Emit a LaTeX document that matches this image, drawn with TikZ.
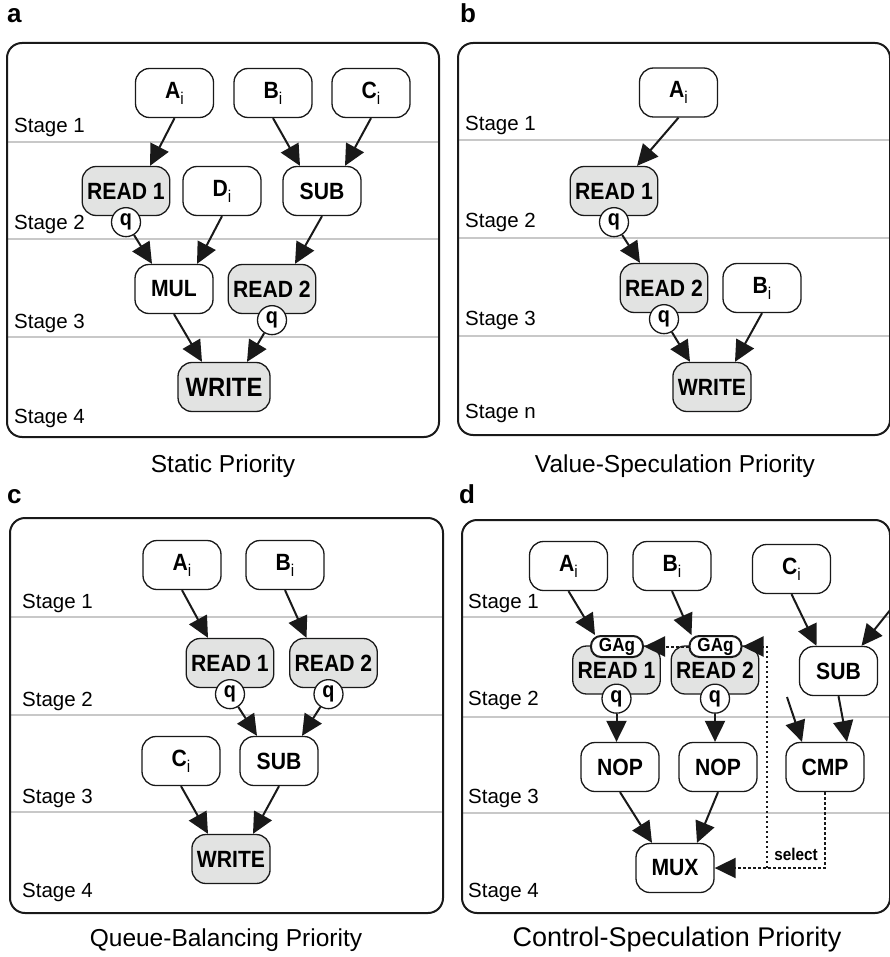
\documentclass[tikz,border=0pt]{standalone}
\usepackage{fontspec}
\setmainfont{Liberation Sans}
\newfontfamily\nodefont[FakeStretch=0.9]{Liberation Sans}
\usetikzlibrary{arrows.meta,positioning}
\definecolor{rdgray}{RGB}{226,227,226}
\definecolor{stgray}{RGB}{200,200,200}
\definecolor{ink}{RGB}{25,25,25}
\tikzset{
  op/.style={draw=ink, line width=1.3pt, rounded corners=14pt, fill=white, minimum width=78pt, minimum height=49pt, inner xsep=5pt, inner ysep=0pt, font=\nodefont\fontsize{23.5}{26}\selectfont\bfseries},
  rd/.style={op, fill=rdgray, minimum width=0pt},
  qq/.style={circle, draw=ink, line width=1.3pt, fill=white, minimum size=29pt, inner sep=0pt, font=\nodefont\fontsize{22}{24}\selectfont\bfseries},
  gag/.style={draw=ink, line width=2pt, rounded corners=10pt, fill=white, minimum width=52pt, minimum height=21pt, inner sep=0pt, font=\nodefont\fontsize{19}{20}\selectfont\bfseries},
  pbox/.style={draw=ink, line width=2pt, rounded corners=15pt},
  stline/.style={draw=stgray, line width=2.5pt},
  stage/.style={anchor=base west, inner sep=0pt, font=\fontsize{20.5}{22}\selectfont},
  panel/.style={anchor=base west, inner sep=0pt, font=\fontsize{26}{28}\selectfont\bfseries},
  caption/.style={font=\fontsize{24.5}{28}\selectfont},
  flow/.style={draw=ink, line width=2pt, -{Triangle[length=21pt,width=20pt]}},
  ctl/.style={flow, dash pattern=on 2.5pt off 2.5pt},
}
\newcommand{\sub}[2]{#1\raisebox{-6pt}{\fontsize{17}{17}\selectfont\mdseries #2}}
\begin{document}
\begin{tikzpicture}[x=1pt, y=-1pt]
  \useasboundingbox (0,0) rectangle (889,957);

  % panel a
  \draw[stline] (7,142) -- (439,142);
  \draw[stline] (7,239) -- (439,239);
  \draw[stline] (7,337) -- (439,337);
  \draw[pbox] (7,43) rectangle (439,437);
  \node[panel] (la) at (7,23) {a};
  \node[stage] (as1) at (14,133) {Stage 1};
  \node[stage] (as2) at (14,230) {Stage 2};
  \node[stage] (as3) at (14,328) {Stage 3};
  \node[stage] (as4) at (14,423) {Stage 4};
  \node[op] (aA) at (174.5,93) {\sub{A}{i}};
  \node[op] (aB) at (273,93) {\sub{B}{i}};
  \node[op] (aC) at (371,93) {\sub{C}{i}};
  \node[rd] (aR1) at (126,191) {READ 1};
  \node[qq] (aQ1) at ([yshift=-6pt]aR1.south) {q};
  \node[op] (aD) at (222,191) {\sub{D}{i}};
  \node[op] (aS) at (322,191) {SUB};
  \node[op] (aM) at (174,289) {MUL};
  \node[rd] (aR2) at (272,289) {READ 2};
  \node[qq] (aQ2) at ([yshift=-6pt]aR2.south) {q};
  \node[rd, minimum width=92pt, font=\nodefont\fontsize{26.5}{28}\selectfont\bfseries] (aW) at (224,387) {WRITE};
  \draw[flow] (aA.south) -- ([xshift=24pt]aR1.north);
  \draw[flow] (aB.south) -- ([xshift=-22pt]aS.north);
  \draw[flow] (aC.south) -- ([xshift=23pt]aS.north);
  \draw[flow] (aQ1) -- ([xshift=-22pt]aM.north);
  \draw[flow] (aD.south) -- ([xshift=23pt]aM.north);
  \draw[flow] (aS.south) -- ([xshift=23pt]aR2.north);
  \draw[flow] (aM.south) -- ([xshift=-22pt]aW.north);
  \draw[flow] (aQ2) -- ([xshift=23pt]aW.north);
  \node[caption] (ca) at (223,466) {Static Priority};

  % panel b
  \draw[stline] (458,140) -- (890,140);
  \draw[stline] (458,238) -- (890,238);
  \draw[stline] (458,336) -- (890,336);
  \draw[pbox] (458,43) rectangle (890,435);
  \node[panel] (lb) at (460,23) {b};
  \node[stage] (bs1) at (465,131) {Stage 1};
  \node[stage] (bs2) at (465,228) {Stage 2};
  \node[stage] (bs3) at (465,325) {Stage 3};
  \node[stage] (bs4) at (465,418) {Stage n};
  \node[op] (bA) at (678.5,92.5) {\sub{A}{i}};
  \node[rd] (bR1) at (614,191) {READ 1};
  \node[qq] (bQ1) at ([yshift=-6pt]bR1.south) {q};
  \node[rd] (bR2) at (664,288) {READ 2};
  \node[qq] (bQ2) at ([yshift=-6pt]bR2.south) {q};
  \node[op] (bB) at (762,288) {\sub{B}{i}};
  \node[rd] (bW) at (712,387) {WRITE};
  \draw[flow] (bA.south) -- ([xshift=23pt]bR1.north);
  \draw[flow] (bQ1) -- ([xshift=-24pt]bR2.north);
  \draw[flow] (bQ2) -- ([xshift=-22pt]bW.north);
  \draw[flow] (bB.south) -- ([xshift=23pt]bW.north);
  \node[caption] (cb) at (675,466) {Value-Speculation Priority};

  % panel c
  \draw[stline] (10,617) -- (443,617);
  \draw[stline] (10,715) -- (443,715);
  \draw[stline] (10,812) -- (443,812);
  \draw[pbox] (10,518) rectangle (443,913);
  \node[panel] (lc) at (7,503) {c};
  \node[stage] (cs1) at (22,608) {Stage 1};
  \node[stage] (cs2) at (22,706) {Stage 2};
  \node[stage] (cs3) at (22,803) {Stage 3};
  \node[stage] (cs4) at (22,897) {Stage 4};
  \node[op] (cA) at (182,565) {\sub{A}{i}};
  \node[op] (cB) at (285,565) {\sub{B}{i}};
  \node[rd] (cR1) at (230,663) {READ 1};
  \node[qq] (cQ1) at ([yshift=-6pt]cR1.south) {q};
  \node[rd] (cR2) at (333.5,663) {READ 2};
  \node[qq] (cQ2) at ([xshift=-5pt,yshift=-6pt]cR2.south) {q};
  \node[op] (cC) at (181,761) {\sub{C}{i}};
  \node[op] (cS) at (279,761) {SUB};
  \node[rd] (cW) at (231,859) {WRITE};
  \draw[flow] (cA.south) -- ([xshift=-22pt]cR1.north);
  \draw[flow] (cB.south) -- ([xshift=-27pt]cR2.north);
  \draw[flow] (cQ1) -- ([xshift=-22pt]cS.north);
  \draw[flow] (cQ2) -- ([xshift=23pt]cS.north);
  \draw[flow] (cC.south) -- ([xshift=-23pt]cW.north);
  \draw[flow] (cS.south) -- ([xshift=22pt]cW.north);
  \node[caption] (cc) at (226,940) {Queue-Balancing Priority};

  % panel d
  \draw[stline] (462,617) -- (890,617);
  \draw[stline] (462,717) -- (890,717);
  \draw[stline] (462,813) -- (890,813);
  \draw[pbox] (462,520) rectangle (890,913);
  \node[panel] (ld) at (459,503) {d};
  \node[stage] (ds1) at (468,608) {Stage 1};
  \node[stage] (ds2) at (468,705) {Stage 2};
  \node[stage] (ds3) at (468,803) {Stage 3};
  \node[stage] (ds4) at (468,897) {Stage 4};
  \node[op] (dA) at (568.5,566) {\sub{A}{i}};
  \node[op] (dB) at (672,566) {\sub{B}{i}};
  \node[op] (dC) at (791.5,569) {\sub{C}{i}};
  \node[rd, minimum height=48pt] (dR1) at (616.5,670) {READ 1};
  \node[gag] (dG1) at (617,646.5) {GAg};
  \node[qq] (dQ1) at ([yshift=-4pt]dR1.south) {q};
  \node[rd, minimum height=48pt] (dR2) at (715,670) {READ 2};
  \node[gag] (dG2) at (715.5,646.5) {GAg};
  \node[qq] (dQ2) at ([yshift=-4pt]dR2.south) {q};
  \node[op] (dS) at (838.5,671) {SUB};
  \node[op] (dN1) at (620,767) {NOP};
  \node[op] (dN2) at (718,767) {NOP};
  \node[op] (dCm) at (825,767) {CMP};
  \node[op] (dX) at (675,868) {MUX};
  \coordinate (dIn1) at (895,604);
  \coordinate (dIn2) at (787,697);
  \coordinate (dJ) at (767,868);
  \draw[flow] (dA.south) -- ([xshift=-22pt]dG1.north);
  \draw[flow] (dB.south) -- ([xshift=-24pt]dG2.north);
  \draw[flow] (dC.south) -- ([xshift=-22pt]dS.north);
  \draw[flow] (dIn1) -- ([xshift=23pt]dS.north);
  \draw[flow] (dIn2) -- ([xshift=-23pt]dCm.north);
  \draw[flow] (dS.south) -- ([xshift=22pt]dCm.north);
  \draw[flow] (dQ1) -- (dQ1 |- dN1.north);
  \draw[flow] (dQ2) -- (dQ2 |- dN2.north);
  \draw[flow] (dN1.south) -- ([xshift=-23pt]dX.north);
  \draw[flow] (dN2.south) -- ([xshift=22pt]dX.north);
  \draw[ctl] (dCm.south) |- (dX.east);
  \draw[ctl] (dJ) |- (dG2.east);
  \draw[ctl] (dG2.west) -- (dG1.east);
  \node[font=\nodefont\fontsize{17}{18}\selectfont\bfseries] (dSel) at (796,854) {select};
  \node[caption, font=\fontsize{27}{30}\selectfont] (cd) at (677,940) {Control-Speculation Priority};
\end{tikzpicture}
\end{document}
